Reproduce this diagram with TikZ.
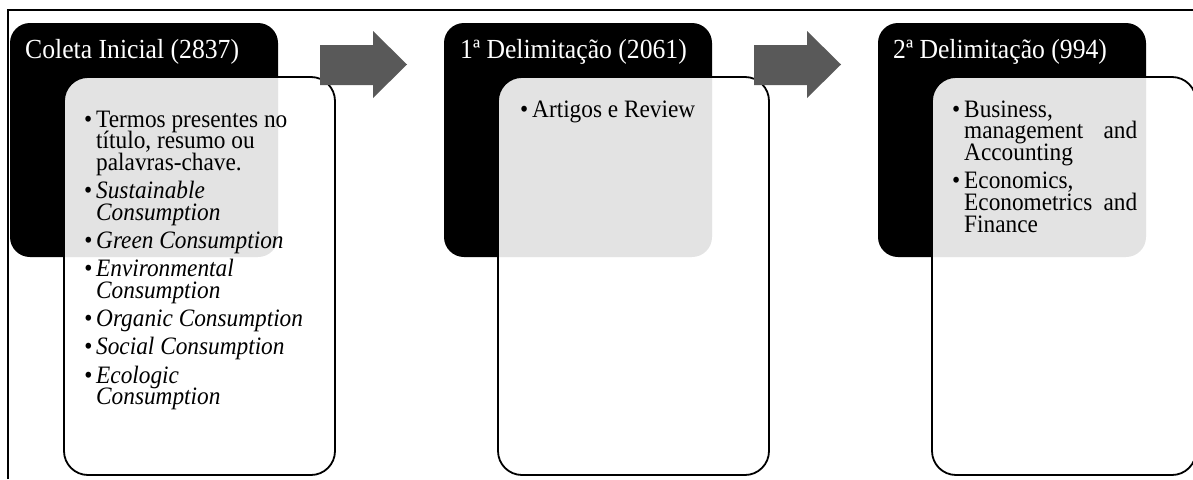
\documentclass[tikz,border=0pt]{standalone}
\usepackage{fontspec}
\setmainfont{Liberation Serif}[FakeStretch=0.93]
\definecolor{arrowgray}{RGB}{89,89,89}
\newcommand\titlefont{\fontsize{27.6}{28}\selectfont}
\newcommand\bulfont{\fontsize{25.05}{21.7}\selectfont\lineskiplimit=-100pt\parskip=6.5pt}
\newcommand\bul[1]{\par\noindent\hangindent=12pt\hangafter=1\makebox[12pt][l]{\textbullet}#1}
\begin{document}
\begin{tikzpicture}[x=1pt,y=-1pt,
  blackbox/.style={fill=black, rounded corners=20pt, inner sep=0pt, outer sep=0pt, anchor=north west, minimum width=268pt, minimum height=234pt},
  whitebox/.style={fill=white, fill opacity=0.89, draw=black, line width=1.8pt, rounded corners=24pt, inner sep=0pt, outer sep=0pt, anchor=north west, minimum width=271pt, minimum height=398pt},
  titletext/.style={text=white, anchor=base west, inner sep=0pt, font=\titlefont},
  bultext/.style={anchor=base west, inner sep=0pt},
  blockarrow/.style={fill=arrowgray, draw=none}
]
\useasboundingbox (0,0) rectangle (1193,479);
\clip (0,0) rectangle (1193,479);
% frame
\draw[line width=1.2pt] (8,479) -- (8,10) -- (1193,10);
% black header boxes
\node[blackbox] (b1) at (10,23) {};
\node[blackbox] (b2) at (444,23) {};
\node[blackbox] (b3) at (878,23) {};
% white content boxes
\node[whitebox] (w1) at (64,77) {};
\node[whitebox] (w2) at (498,77) {};
\node[whitebox, minimum width=264pt] (w3) at (932,77) {};
% block arrows
\fill[blockarrow] (320,45) -- (373,45) -- (373,31) -- (407,64.5) -- (373,98) -- (373,85) -- (320,85) -- cycle;
\fill[blockarrow] (754,45) -- (807,45) -- (807,31) -- (841,64.5) -- (807,98) -- (807,85) -- (754,85) -- cycle;
% titles
\node[titletext] (t1) at (25,58) {Coleta Inicial (2837)};
\node[titletext] (t2) at (460,58) {1ª Delimitação (2061)};
\node[titletext] (t3) at (893,58) {2ª Delimitação (994)};
% bullet texts
\node[bultext] (c1) at (84,127) {\vtop{\hsize=260pt\bulfont
  \bul{Termos presentes no\newline título, resumo ou\newline palavras-chave.}
  \bul{\itshape Sustainable\newline Consumption}
  \bul{\itshape Green Consumption}
  \bul{\itshape Environmental\newline Consumption}
  \bul{\itshape Organic Consumption}
  \bul{\itshape Social Consumption}
  \bul{\itshape Ecologic\newline Consumption}\par}};
\node[bultext] (c2) at (520,117) {\vtop{\hsize=260pt\bulfont
  \bul{Artigos e Review}\par}};
\node[bultext] (c3) at (952,117) {\vtop{\hsize=260pt\bulfont
  \bul{Business,\newline \makebox[173pt][s]{management and}\newline Accounting}
  \bul{Economics,\newline \makebox[173pt][s]{Econometrics and}\newline Finance}\par}};
\end{tikzpicture}
\end{document}
